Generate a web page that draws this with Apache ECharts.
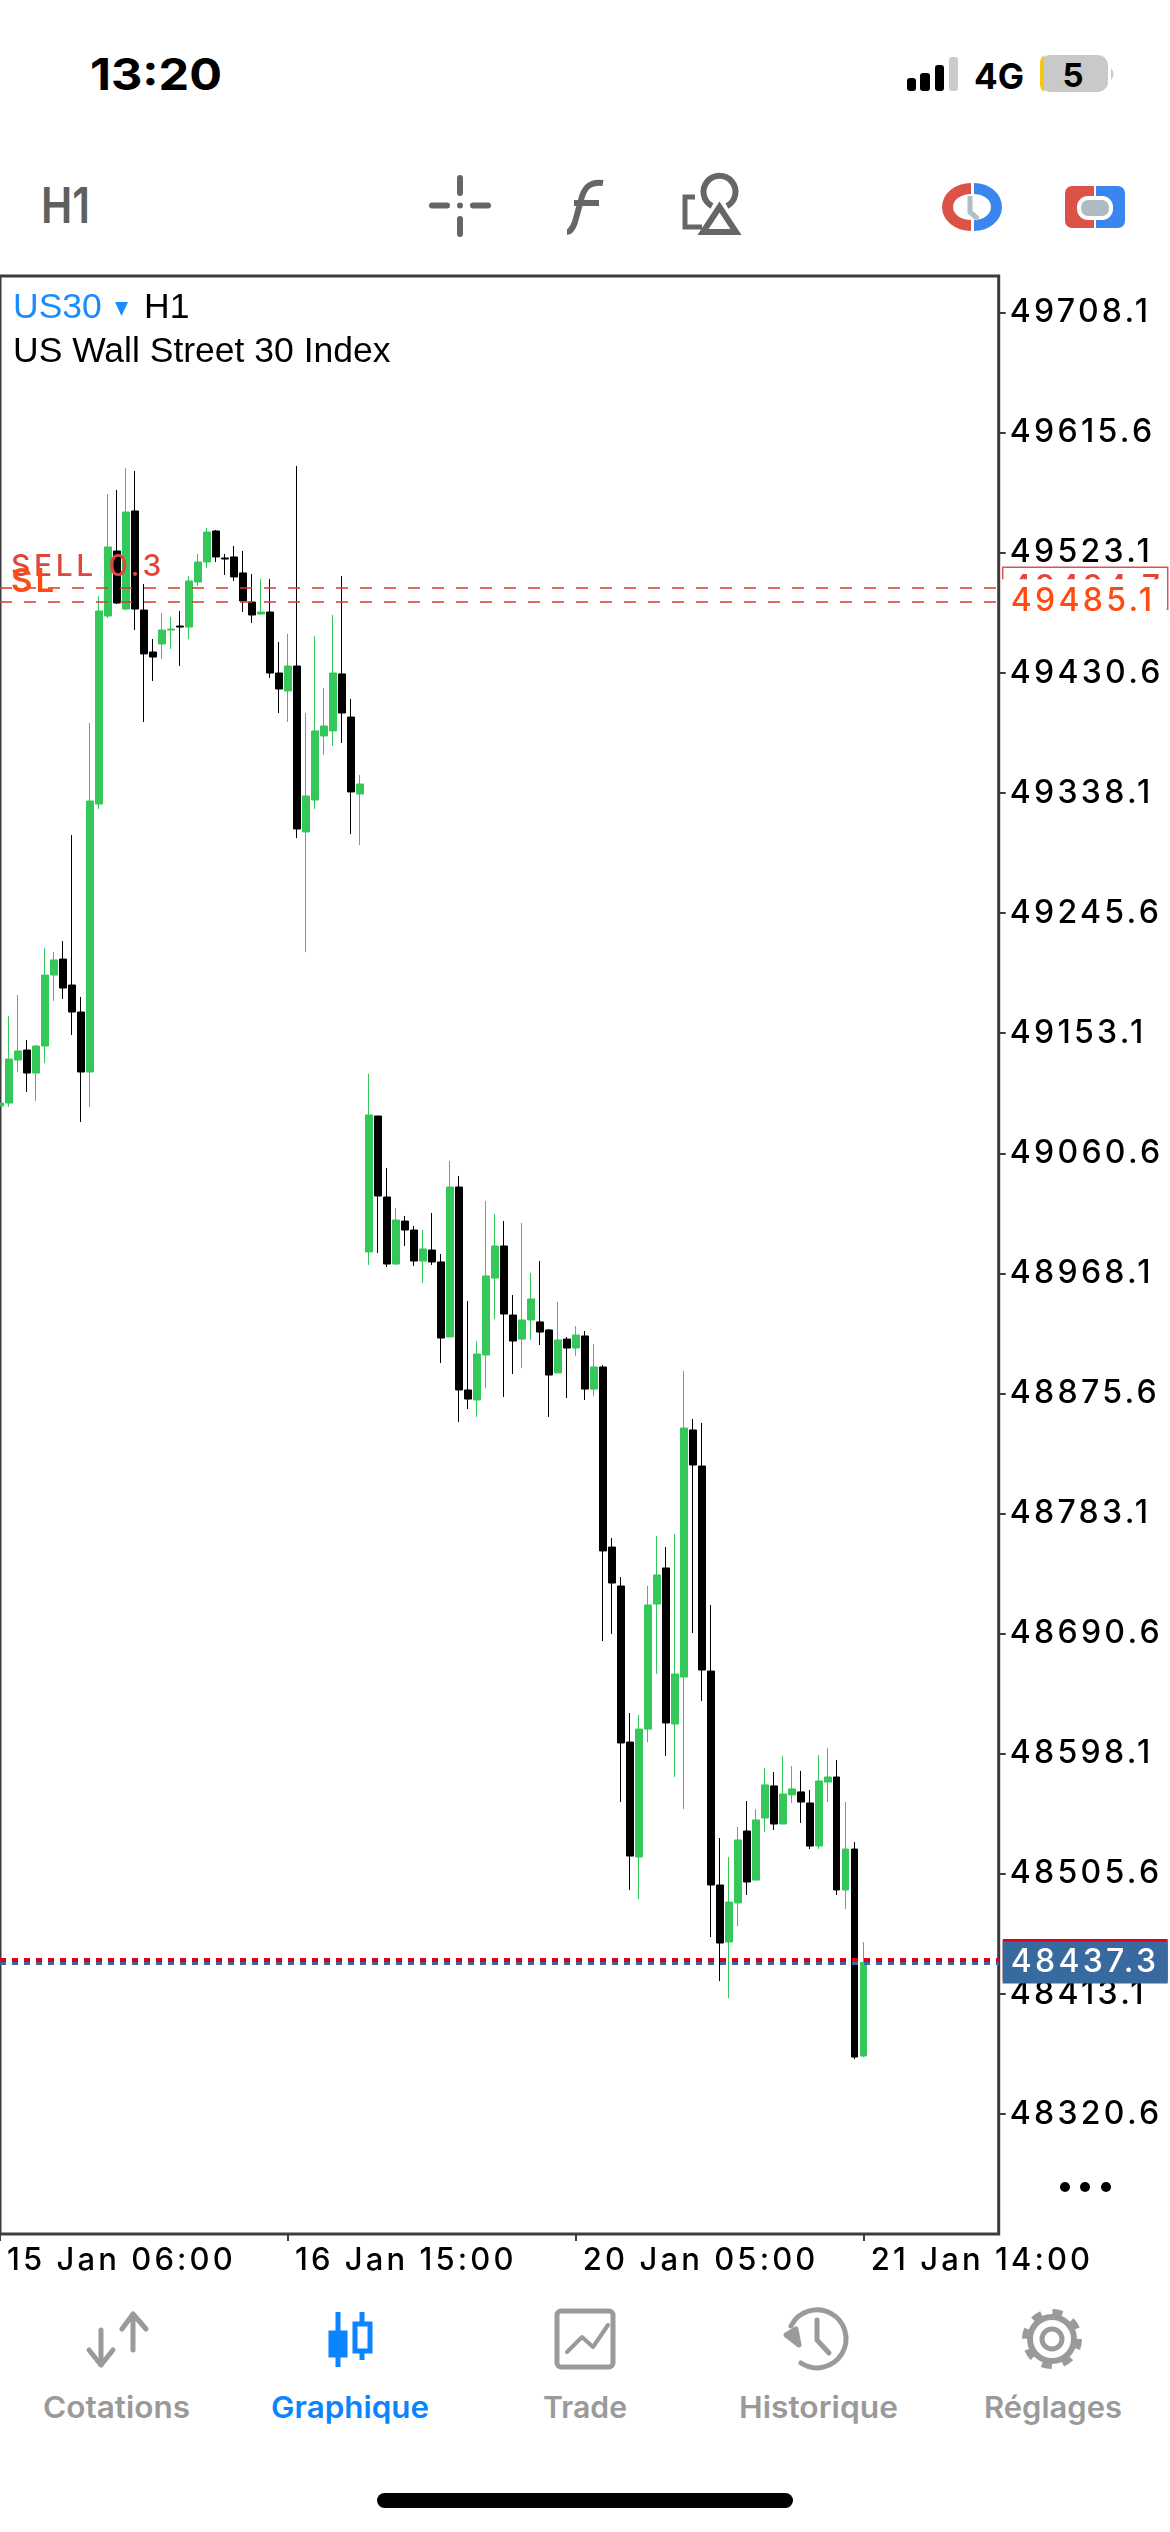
<!DOCTYPE html>
<html>
<head>
<meta charset="utf-8">
<title>US30 H1</title>
<script src="https://cdn.jsdelivr.net/npm/echarts@6/dist/echarts.min.js"></script>
<style>
html,body{margin:0;padding:0;background:#fff;width:1170px;height:2532px;overflow:hidden}
#chart{position:absolute;left:0;top:0;width:1170px;height:2532px}
#chrome{position:absolute;left:0;top:0}
#chrome text{font-family:Inter,sans-serif}
</style>
</head>
<body>
<svg id="chrome" width="1170" height="2532" viewBox="0 0 1170 2532">
	<!-- status bar -->
	<text x="90" y="90" font-size="44" font-weight="700" textLength="132" lengthAdjust="spacingAndGlyphs">13:20</text>
	<rect x="907" y="78" width="9" height="13" rx="3"/>
	<rect x="920" y="73" width="10" height="18" rx="3"/>
	<rect x="935" y="65" width="9" height="26" rx="3"/>
	<rect x="949" y="57" width="9" height="34" rx="3" fill="#ccc"/>
	<text x="974" y="89" font-size="36" font-weight="700" textLength="50" lengthAdjust="spacingAndGlyphs">4G</text>
	<rect x="1040" y="55" width="68" height="37" rx="10" fill="#c9c9c9"/>
	<path d="M1044 55a10 10 0 0 0-4 8v21a10 10 0 0 0 4 8z" fill="#f5c518"/>
	<path d="M1111 68q5 6 0 12z" fill="#c9c9c9"/>
	<text x="1073" y="87" font-size="33" font-weight="700" text-anchor="middle">5</text>
	<!-- toolbar -->
	<text x="41" y="223" font-size="50" font-weight="600" fill="#5f5f5f" textLength="49" lengthAdjust="spacingAndGlyphs">H1</text>
	<g stroke="#666" stroke-width="6" stroke-linecap="round" fill="none">
		<path d="M432 205.500H447M473 205.500H488M460 178V193M460 219V234"/>
	</g>
	<circle cx="460" cy="205.500" r="3" fill="#666"/>
	<g stroke="#666" stroke-width="6" fill="none">
		<path d="M603 183C590 181 584 187 581 200L575 222C572 231 568 232 567 232"/>
		<path d="M574 203H599"/>
		<path d="M712 206A16 16 0 1 1 727 206"/>
		<path d="M719.500 207L703 232H736Z"/>
		<path d="M695 197H685V227H702" stroke-width="5"/>
	</g>
	<path d="M971 183A29 24 0 0 0 971 231V220A18 13 0 0 1 971 194Z" fill="#dd5246"/>
	<path d="M974 183A28 24 0 0 1 974 231V220A17 13 0 0 0 974 194Z" fill="#3b86ee"/>
	<path d="M970 196V212L978 219" stroke="#b0bec5" stroke-width="5" fill="none"/>
	<path d="M1094 186H1072a7 7 0 0 0-7 7V221a7 7 0 0 0 7 7H1094Z" fill="#dd5246"/>
	<path d="M1096 186H1118a7 7 0 0 1 7 7V221a7 7 0 0 1-7 7H1096Z" fill="#3b86ee"/>
	<rect x="1079" y="198" width="32" height="20" rx="9" fill="#aebbc2" stroke="#fff" stroke-width="4"/>
	<!-- more -->
	<circle cx="1065" cy="2187" r="5"/><circle cx="1085" cy="2187" r="5"/><circle cx="1106" cy="2187" r="5"/>
	<!-- bottom nav -->
	<g stroke="#9a9a9a" stroke-width="5" fill="none" stroke-linecap="round" stroke-linejoin="round">
		<path d="M133 2350V2315M122 2329L133 2314L146 2329"/>
		<path d="M101 2330V2364M89 2350L101 2365L113 2350"/>
		<rect x="557" y="2311" width="56" height="56" rx="4"/>
		<path d="M567 2352L582 2337L593 2347L608 2325" stroke-width="4"/>
		<path d="M791 2326A29 29 0 1 1 801 2363"/>
		<path d="M817 2320V2340L829 2353"/>
		<path d="M786 2335L796 2329L799 2345Z" fill="#9a9a9a"/>
		<circle cx="1052" cy="2339" r="10"/>
		<circle cx="1052" cy="2339" r="22" stroke-width="6"/>
		<circle cx="1052" cy="2339" r="27" stroke-width="6" stroke-dasharray="10 11.200" stroke-linecap="butt"/>
	</g>
	<g fill="#0a84ff" stroke="#0a84ff">
		<path d="M338 2312V2367M362 2312V2360" stroke-width="5" fill="none"/>
		<rect x="329" y="2331" width="18" height="26"/>
		<rect x="355" y="2324" width="15" height="27" fill="#fff" stroke-width="5"/>
	</g>
	<g font-size="30" font-weight="600" fill="#9a9a9a">
		<text x="43" y="2418" textLength="147" lengthAdjust="spacingAndGlyphs">Cotations</text>
		<text x="271" y="2418" textLength="158" lengthAdjust="spacingAndGlyphs" fill="#0a84ff">Graphique</text>
		<text x="543" y="2418" textLength="84" lengthAdjust="spacingAndGlyphs">Trade</text>
		<text x="739" y="2418" textLength="159" lengthAdjust="spacingAndGlyphs">Historique</text>
		<text x="984" y="2418" textLength="138" lengthAdjust="spacingAndGlyphs">Réglages</text>
	</g>
	<rect x="377" y="2493" width="416" height="15" rx="7.500"/>
</svg>
<div id="chart"></div>
<script>
var opens = [49097.0,49099.3,49132.4,49140.1,49122.4,49143.2,49197.9,49210.2,49190.2,49169.4,
	49123.2,49329.6,49474.4,49524.5,49479.8,49555.3,49479.0,49446.7,49452.9,49463.6,
	49466.7,49465.9,49500.6,49516.0,49539.9,49519.1,49519.9,49507.6,49485.2,49476.0,
	49477.5,49430.5,49416.7,49435.9,49308.1,49332.7,49382.0,49385.9,49429.8,49396.6,
	49337.3,48984.6,49089.3,49026.9,48975.3,49008.4,49001.5,48977.6,48986.1,48976.9,
	48919.1,49034.6,48878.3,48870.6,48905.2,48964.5,48989.2,48936.0,48917.5,48932.2,
	48930.7,48924.5,48891.4,48917.5,48910.6,48919.9,48879.0,48896.0,48757.3,48727.3,
	48607.1,48518.6,48617.1,48713.4,48741.2,48621.0,48657.2,48847.5,48819.7,48661.8,
	48497.0,48453.1,48483.2,48538.6,48500.8,48548.6,48573.3,48544.0,48566.4,48568.7,
	48560.2,48527.0,48576.3,48580.2,48493.2,48524.7,48365.3];
var closes = [49099.3,49133.2,49139.4,49122.4,49143.2,49197.9,49209.5,49187.9,49169.4,49123.2,
	49331.9,49478.3,49527.6,49484.4,49554.5,49479.8,49445.2,49442.8,49463.6,49464.4,
	49465.9,49501.4,49516.0,49539.1,49519.9,49518.3,49504.5,49486.0,49475.2,49477.5,
	49430.5,49418.2,49435.9,49310.4,49335.8,49385.9,49389.7,49430.5,49399.7,49338.9,
	49345.0,49090.1,49027.7,48975.3,49009.2,49001.5,48977.6,48986.9,48976.9,48918.3,
	49034.6,48878.3,48871.3,48906.0,48966.1,48989.2,48936.8,48916.0,48932.2,48948.4,
	48922.9,48889.8,48916.8,48910.6,48920.6,48879.0,48896.0,48754.3,48729.6,48606.4,
	48519.3,48617.1,48712.7,48735.8,48621.8,48659.5,48849.0,48820.5,48662.6,48497.0,
	48452.3,48483.9,48531.7,48499.3,48547.1,48574.1,48544.0,48567.1,48571.0,48560.9,
	48527.0,48577.1,48580.2,48493.2,48524.7,48364.5,48437.3];
var lows = [49096.3,49096.3,49123.2,49107.8,49100.9,49130.1,49177.9,49179.4,49151.7,49084.7,
	49096.3,49325.8,49472.9,49483.7,49479.0,49463.6,49392.8,49424.4,49441.3,49449.0,
	49435.9,49456.7,49497.5,49511.4,49516.0,49506.0,49501.4,49477.5,49469.0,49475.2,
	49426.7,49399.7,49392.8,49303.4,49215.6,49325.8,49367.4,49374.3,49376.6,49306.5,
	49298.0,48974.6,48983.8,48973.0,48974.6,48989.2,48973.8,48960.7,48974.6,48899.1,
	48919.1,48853.6,48863.6,48857.5,48879.8,48932.9,48872.9,48890.6,48895.2,48916.8,
	48912.9,48857.5,48891.4,48872.1,48904.5,48870.6,48873.7,48684.9,48690.3,48560.9,
	48493.2,48486.2,48607.1,48659.5,48596.4,48580.2,48555.5,48691.1,48638.7,48456.9,
	48423.0,48410.0,48465.4,48489.3,48500.8,48537.8,48539.4,48544.0,48560.2,48544.8,
	48524.7,48524.7,48560.9,48489.3,48478.5,48362.9,48364.5];
var highs = [49100.1,49166.3,49182.5,49147.9,49144.0,49218.7,49215.6,49224.1,49305.7,49181.0,
	49392.0,49489.8,49568.4,49571.5,49588.4,49586.1,49499.1,49456.7,49476.7,49473.7,
	49478.3,49505.2,49522.2,49542.2,49540.7,49522.2,49528.4,49524.5,49506.8,49502.9,
	49502.9,49454.4,49460.6,49590.0,49399.7,49459.0,49419.0,49475.2,49505.2,49410.5,
	49352.0,49121.7,49089.3,49049.3,49018.5,49012.3,49004.6,49001.5,49014.6,48983.0,
	49054.7,49043.1,48946.8,48916.0,49023.8,49013.8,49008.4,48951.4,49006.9,48968.4,
	48977.6,48925.2,48946.1,48919.1,48927.5,48923.7,48913.7,48897.5,48764.3,48734.2,
	48629.5,48628.0,48727.3,48765.8,48757.3,48767.3,48892.9,48856.0,48852.9,48712.7,
	48533.2,48518.6,48541.7,48561.7,48555.5,48587.2,48584.1,48596.4,48588.7,48584.9,
	48570.2,48597.1,48602.5,48593.3,48560.9,48530.1,48453.1];
var priceTicks = [49708.1,49615.6,49523.1,49430.6,49338.1,49245.6,49153.1,49060.6,48968.1,48875.6,48783.1,48690.6,48598.1,48505.6,48413.1,48320.6];
var timeTicks = {0:'15 Jan 06:00',32:'16 Jan 15:00',64:'20 Jan 05:00',96:'21 Jan 14:00'};
var sellPrice = 49495.8, slPrice = 49485.7, askPrice = 48439.2, bidPrice = 48437.3;

var slots = [];
for (var i = 0; i < 112; i++) {
	slots.push(timeTicks[i] || '');
}
var bars = opens.map(function(o, i) {
	return [o, closes[i], lows[i], highs[i]];
});

// canvas has no tracking in zrender, the app's axis text is spaced out
var tracking = {'30px': '3.6px', '31px': '3.1px', '32px': '3.3px', '33px': '3px'};
var fillText0 = CanvasRenderingContext2D.prototype.fillText;
CanvasRenderingContext2D.prototype.fillText = function() {
	var size = (this.font.match(/\d+px/) || [])[0];
	this.letterSpacing = this.font.indexOf('Inter') >= 0 ? (tracking[size] || '0px') : '0px';
	return fillText0.apply(this, arguments);
};

function priceLine(value, text, color, lineType, lineWidth, labelStyle) {
	return {
		yAxis: value,
		name: text,
		lineStyle: {color: color, type: lineType, width: lineWidth},
		label: Object.assign({
			show: true,
			position: 'end',
			formatter: '{b}',
			fontFamily: 'Inter',
			fontSize: 32,
			fontWeight: 500,
			align: 'left',
			verticalAlign: 'middle',
			lineHeight: 32,
			padding: [5, 0, 5, 8]
		}, labelStyle)
	};
}

var myChart = echarts.init(document.getElementById('chart'));
var option = {
	animation: false,
	grid: {
		show: true, left: 0, top: 276, width: 998.7, height: 1958,
		borderColor: '#3c3c3c', borderWidth: 3, backgroundColor: 'transparent'
	},
	xAxis: {
		type: 'category',
		data: slots,
		boundaryGap: false,
		axisLine: {show: false},
		axisTick: {
			show: true, length: 7, alignWithLabel: true,
			lineStyle: {color: '#3c3c3c', width: 2},
			interval: function(i) { return !!timeTicks[i]; }
		},
		axisLabel: {
			margin: 11, align: 'left', color: '#000',
			fontFamily: 'Inter', fontSize: 31, fontWeight: 500, padding: [0, 0, 0, 7],
			interval: function(i) { return !!timeTicks[i]; }
		},
		splitLine: {show: false}
	},
	yAxis: {
		type: 'value',
		position: 'right',
		min: 48228.2,
		max: 49736.3,
		scale: true,
		axisLine: {show: false},
		axisTick: {show: true, length: 7, lineStyle: {color: '#3c3c3c', width: 2}, customValues: priceTicks},
		axisLabel: {
			margin: 11, color: '#000',
			fontFamily: 'Inter', fontSize: 32, fontWeight: 500,
			customValues: priceTicks,
			formatter: function(v) { return v.toFixed(1); }
		},
		splitLine: {show: false}
	},
	graphic: [
		{type: 'text', x: 13, y: 308, z: 10, style: {text: 'US30', fill: '#1a8cff', fontFamily: 'Liberation Sans', fontSize: 35.5, verticalAlign: 'middle'}},
		{type: 'polygon', z: 10, shape: {points: [[115, 302], [128, 302], [121.5, 316]]}, style: {fill: '#1a8cff'}},
		{type: 'text', x: 144, y: 308, z: 10, style: {text: 'H1', fill: '#000', fontFamily: 'Liberation Sans', fontSize: 35.5, verticalAlign: 'middle'}},
		{type: 'text', x: 13, y: 352, z: 10, style: {text: 'US Wall Street 30 Index', fill: '#000', fontFamily: 'Liberation Sans', fontSize: 35.5, verticalAlign: 'middle'}},
		{type: 'text', x: 11, y: 567, z: 10, style: {text: 'SELL 0.3', fill: '#e0473c', fontFamily: 'Inter', fontSize: 30, fontWeight: 500, verticalAlign: 'middle'}},
		{type: 'text', x: 11, y: 582, z: 10, style: {text: 'SL', fill: '#ff4b12', fontFamily: 'Inter', fontSize: 33, fontWeight: 600, verticalAlign: 'middle'}}
	],
	series: [{
		type: 'line',
		z: 1,
		data: [],
		symbol: 'none',
		markLine: {
			silent: true,
			animation: false,
			symbol: ['none', 'none'],
			data: [
				priceLine(sellPrice, '49494.7', '#d43c30', [12, 12], 1.5, {
					color: '#e0473c', distance: 4, width: 157, borderColor: '#d9534f', borderWidth: 1.5
				}),
				priceLine(slPrice, '49485.1', '#d43c30', [12, 12], 1.5, {
					color: '#ff4b12', distance: 3, width: 156, backgroundColor: '#fff', padding: [6, 0, 6, 9]
				}),
				// ask label sits behind the bid one, only its top edge shows
				priceLine(askPrice, ' ', 'transparent', [6, 6], 1, {
					distance: 4, width: 157, backgroundColor: '#e0001b'
				}),
				priceLine(bidPrice, '48437.3', '#38699f', [6, 6], 5, {
					color: '#fff', distance: 4, width: 157, backgroundColor: '#38699f'
				}),
				priceLine(askPrice, '', '#e0001b', [6, 6], 4, {show: false})
			]
		}
	}, {
		type: 'candlestick',
		z: 2,
		data: bars,
		barWidth: 7,
		itemStyle: {
			color: '#34c759', color0: '#000',
			borderColor: '#34c759', borderColor0: '#000', borderWidth: 1
		}
	}]
};
myChart.setOption(option);
</script>
</body>
</html>
